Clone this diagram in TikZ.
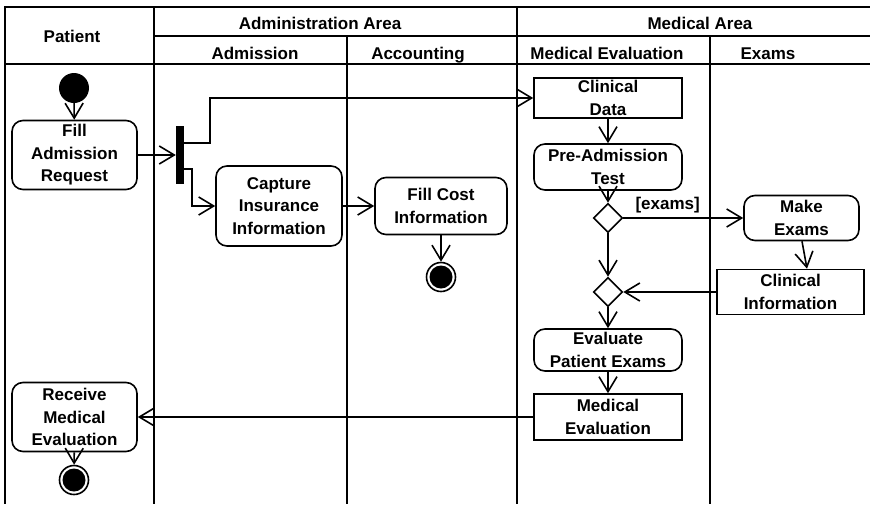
\documentclass[tikz,border=0pt]{standalone}
\usepackage{fontspec}
\setmainfont{Liberation Sans}
\usetikzlibrary{arrows.meta,shapes.geometric,calc}

\begin{document}
\begin{tikzpicture}[x=1pt,y=-1pt,
  font=\fontsize{17}{22.5}\selectfont\bfseries,
  lane/.style={line width=2pt},
  title/.style={anchor=base, inner sep=0pt},
  action/.style={draw, line width=1.6pt, rounded corners=11pt, align=center, inner sep=0pt},
  object/.style={draw, line width=1.6pt, align=center, inner sep=0pt},
  initial/.style={circle, fill=black, inner sep=0pt, minimum size=30pt},
  final/.style={circle, draw, line width=1.6pt, fill=white, inner sep=0pt, minimum size=29pt,
    path picture={\fill[black] (path picture bounding box.center) circle[radius=11.5pt];}},
  choice/.style={diamond, draw, line width=1.6pt, inner sep=0pt, minimum width=29pt, minimum height=29pt},
  forkbar/.style={rectangle, fill=black, inner sep=0pt, minimum width=8pt, minimum height=58pt},
  flow/.style={line width=1.6pt, -{Straight Barb[length=15pt,width=18pt,line width=1.6pt]}},
  guard/.style={inner sep=0pt}
]
\useasboundingbox (0,0) rectangle (870,504);

% swimlane frame
\draw[lane] (870,7) -- (5,7) -- (5,504);
\draw[lane] (5,64) -- (870,64);
\draw[lane] (154,36) -- (870,36);
\draw[lane] (154,7) -- (154,504);
\draw[lane] (517,7) -- (517,504);
\draw[lane] (347,36) -- (347,504);
\draw[lane] (710,36) -- (710,504);

% lane titles
\node[title] (tpat) at (72,42) {Patient};
\node[title] (tadm) at (320,29) {Administration Area};
\node[title] (tmed) at (700,29) {Medical Area};
\node[title] (tadmission) at (255,59) {Admission};
\node[title] (tacc) at (418,59) {Accounting};
\node[title] (tmedev) at (607,59) {Medical Evaluation};
\node[title] (texams) at (768,59) {Exams};

% activity nodes
\node[initial] (init) at (74,88) {};
\node[action, minimum width=125pt, minimum height=69pt] (fill) at (74.5,155) {Fill\\Admission\\Request};
\node[forkbar] (bar) at (180,155) {};
\node[action, minimum width=126pt, minimum height=80pt] (capture) at (279,206) {Capture\\Insurance\\Information};
\node[action, minimum width=132pt, minimum height=57pt] (cost) at (441,206) {Fill Cost\\Information};
\node[final] (costend) at (441,277) {};

\node[object, minimum width=148pt, minimum height=40pt] (clindata) at (608,98) {Clinical\\Data};
\node[action, minimum width=148pt, minimum height=46pt] (preadm) at (608,167) {Pre-Admission\\Test};
\node[choice] (dec1) at (608,218) {};
\node[action, minimum width=115pt, minimum height=45pt] (makeex) at (801.5,218) {Make\\Exams};
\node[object, minimum width=147pt, minimum height=45pt] (clininfo) at (790.5,292) {Clinical\\Information};
\node[choice] (dec2) at (608,292) {};
\node[action, minimum width=148pt, minimum height=42pt] (evalex) at (608,350) {Evaluate\\Patient Exams};
\node[object, minimum width=148pt, minimum height=46pt] (medeval) at (608,417) {Medical\\Evaluation};
\node[action, minimum width=125pt, minimum height=69pt] (receive) at (74.5,417) {Receive\\Medical\\Evaluation};
\node[final] (recend) at (74,480) {};

% control flow
\draw[flow] (init) -- (fill);
\draw[flow] (fill.east) -- (bar.west |- fill.east);
\draw[flow] (bar.east |- {0,143}) -- ++(26,0) |- (clindata.west);
\draw[flow] (bar.east |- {0,169}) -- ++(8,0) |- (capture.west);
\draw[flow] (capture.east) -- (capture.east -| cost.west);
\draw[flow] (cost) -- (costend);
\draw[flow] (clindata) -- (preadm);
\draw[flow] (preadm) -- (dec1);
\draw[flow] (dec1.east) -- (makeex.west)
  node[guard, pos=0.37, above=4pt] (lexams) {[exams]};
\draw[flow] ($(makeex.south)+(0.5,0)$) -- ($(clininfo.north)+(16.5,0)$);
\draw[flow] (dec1) -- (dec2);
\draw[flow] (clininfo.west) -- (dec2.east);
\draw[flow] (dec2) -- (evalex);
\draw[flow] (evalex) -- (medeval);
\draw[flow] (medeval.west) -- (receive.east);
\draw[flow] (receive) -- (recend);
\end{tikzpicture}
\end{document}
